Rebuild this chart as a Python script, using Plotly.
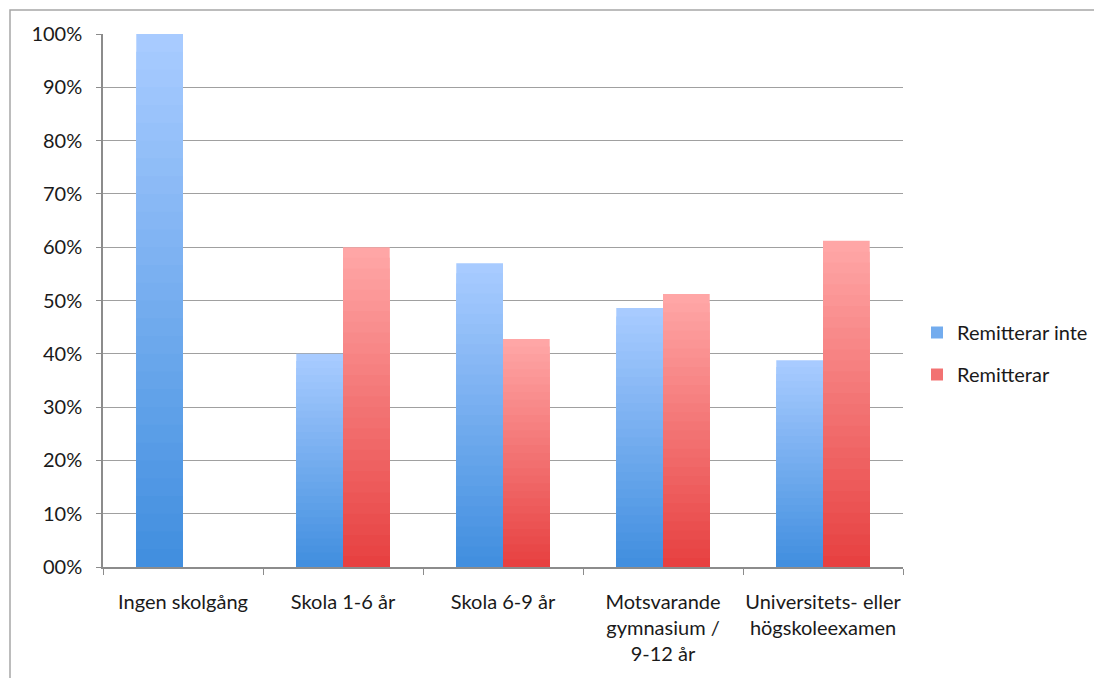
import plotly.graph_objects as go

categories = ["Ingen skolgång", "Skola 1-6 år", "Skola 6-9 år",
              "Motsvarande<br>gymnasium /<br>9-12 år",
              "Universitets- eller<br>högskoleexamen"]
remitterar_inte = [1.00, 0.40, 0.57, 0.486, 0.388]
remitterar = [0.0, 0.60, 0.428, 0.512, 0.612]
series_names = ["Remitterar inte", "Remitterar"]
tick_vals = [0, 0.1, 0.2, 0.3, 0.4, 0.5, 0.6, 0.7, 0.8, 0.9, 1.0]
tick_text = ["00%", "10%", "20%", "30%", "40%", "50%", "60%", "70%", "80%", "90%", "100%"]

# gradient endpoints (top colour, bottom colour)
grads = [((168, 203, 255), (62, 141, 222)),
         ((255, 166, 166), (230, 62, 62))]

FONT = "Lato"
N = 30
FW, FH = 1086, 670          # page has an 8px body margin
W, H = 800.0, 533.0
L, T = 95, 26

fig = go.Figure()

def mix(c1, c2, t):
    return "rgb(%d,%d,%d)" % tuple(round(a * t + b * (1 - t)) for a, b in zip(c1, c2))

bw = 0.292
for si, (vals, name) in enumerate(zip([remitterar_inte, remitterar], series_names)):
    top, bot = grads[si]
    offset = -bw if si == 0 else 0.0
    for k in range(N, 0, -1):
        t = k / N
        fig.add_trace(go.Bar(
            x=categories,
            y=[v * t for v in vals],
            width=bw, offset=offset,
            marker=dict(color=mix(top, bot, t), line=dict(width=0)),
            name=name, legendgroup=name,
            showlegend=(k == N // 2),
            hoverinfo="skip" if k != N else None,
        ))

fig.update_layout(
    barmode="overlay",
    width=FW, height=FH,
    margin=dict(l=L, r=FW - L - int(W), t=T, b=FH - T - int(H), autoexpand=False),
    paper_bgcolor="white", plot_bgcolor="white",
    font=dict(family=FONT, size=20, color="#1a1a1a"),
    legend=dict(x=(917 - 103) / W, y=1 - (353.5 - 34) / H, xanchor="left", yanchor="middle",
                font=dict(size=20), tracegroupgap=13,
                bgcolor="rgba(0,0,0,0)"),
    xaxis=dict(showline=True, linecolor="#8c8c8c", linewidth=1.5,
               ticks="outside", tickson="boundaries", ticklen=6,
               tickcolor="#8c8c8c", tickfont=dict(size=20), tickangle=0,
               automargin=False,
               ticklabelstandoff=16, showgrid=False),
    yaxis=dict(range=[0, 1.0], tickvals=tick_vals, ticktext=tick_text,
               showline=True, linecolor="#8c8c8c", linewidth=1.5,
               ticks="outside", ticklen=5, tickcolor="#8c8c8c",
               showgrid=True, gridcolor="#a0a0a0", gridwidth=1.2,
               automargin=False,
               tickfont=dict(size=20), ticklabelstandoff=10, zeroline=False),
    shapes=[dict(type="rect", xref="paper", yref="paper",
                 x0=(2 - L) / W, x1=(1120 - L) / W,
                 y0=1 - (700 - T) / H, y1=1 + (T - 2) / H,
                 line=dict(color="#a6a6a6", width=1.5), layer="below")],
)

fig.write_html("out.html")
